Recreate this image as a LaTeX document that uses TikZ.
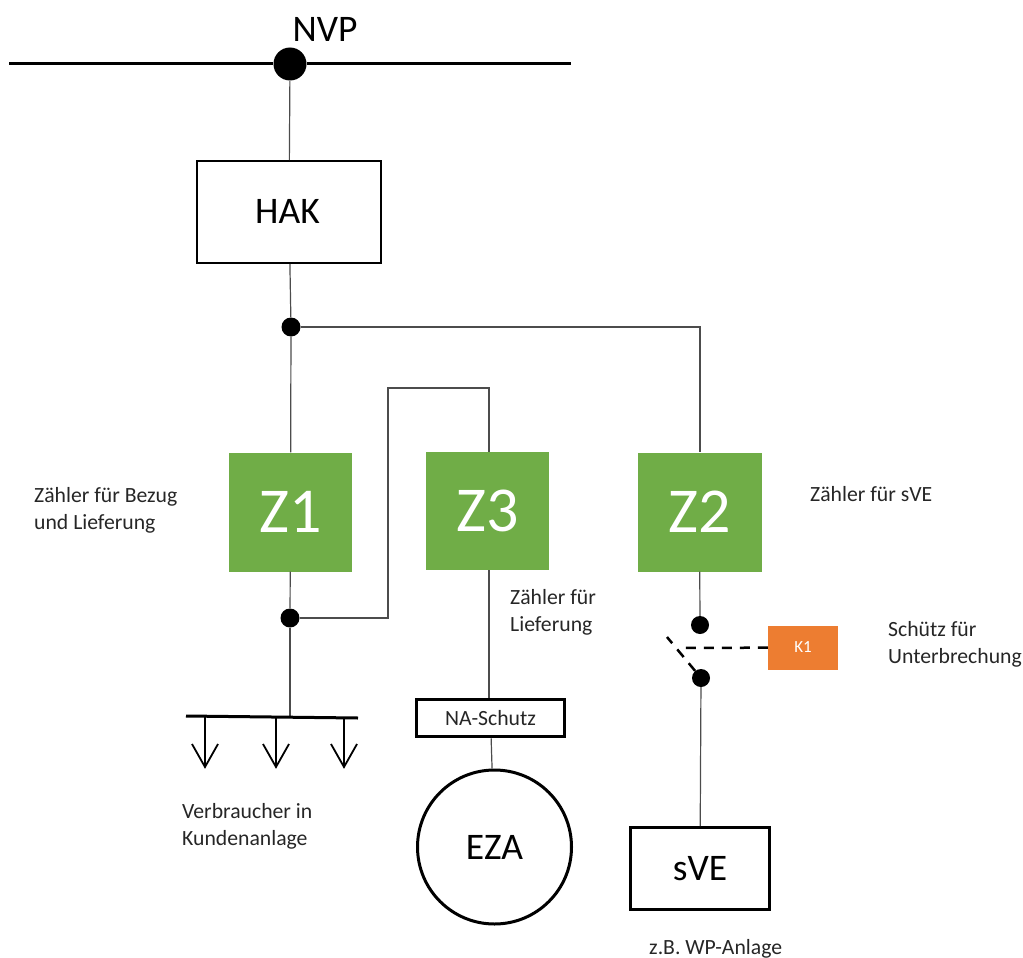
\documentclass[tikz,border=0pt]{standalone}
\usepackage{fontspec}
\setmainfont{Carlito}
\usetikzlibrary{calc}
\definecolor{zgreen}{HTML}{70AD47}
\definecolor{korange}{HTML}{ED7D31}
\definecolor{txt}{HTML}{262626}
\tikzset{
  wire/.style={draw=black!70,line width=1.2pt},
  bus/.style={draw=black,line width=3pt},
  dot/.style={circle,fill=black,inner sep=0pt,minimum size=#1},
  boxa/.style={draw=black,line width=2pt,fill=white,inner sep=0pt,text=black,font=\fontsize{37.5}{40}\selectfont},
  meter/.style={fill=zgreen,inner sep=0pt,minimum width=123pt,minimum height=119pt,text=white,font=\fontsize{64}{70}\selectfont},
  note/.style={align=left,anchor=north west,inner sep=0pt,text=txt,font=\fontsize{21.7}{27}\selectfont},
  load/.style={draw=black,line width=1.8pt},
  swline/.style={draw=black,line width=2.5pt,dash pattern=on 10pt off 8pt},
}
\begin{document}
\begin{tikzpicture}[x=1pt,y=-1pt]
\useasboundingbox (0,0) rectangle (1023,958);
% coordinates
\coordinate (busL) at (9,64);
\coordinate (busR) at (571,64);
\node[dot=33pt] (nvp) at (290,64) {};
\node[font=\fontsize{37.5}{40}\selectfont,text=black] (nvpt) at (325,29) {NVP};
\node[boxa,minimum width=184pt,minimum height=102pt,text depth=0pt] (hak) at (289,212) {\raisebox{1pt}{\kern-3pt HAK}};
\node[dot=19pt] (j1) at (291,327) {};
\node[meter] (z1) at (290.5,512) {Z1};
\node[meter,minimum height=118pt] (z3) at (487.5,511) {Z3};
\node[meter,minimum width=124pt] (z2) at (699.5,512) {Z2};
\node[dot=19pt] (j2) at (290,618) {};
\node[dot=18pt] (s1) at (700,625) {};
\node[dot=18pt] (s2) at (701,678) {};
\node[fill=korange,minimum width=70pt,minimum height=44pt,inner sep=0pt,text=white,font=\fontsize{17}{19}\selectfont] (k1) at (803,647.5) {K1};
\node[draw=black,line width=3.5pt,fill=white,minimum width=148pt,minimum height=37pt,inner sep=0pt,text=txt,font=\fontsize{21.7}{24}\selectfont] (na) at (490.5,718) {NA-Schutz};
\node[circle,draw=black,line width=3pt,fill=white,minimum size=154pt,inner sep=0pt,text=black,font=\fontsize{37.5}{40}\selectfont] (eza) at (494.5,847) {EZA};
\node[draw=black,line width=3pt,fill=white,minimum width=139pt,minimum height=82pt,inner sep=0pt,text=black,font=\fontsize{37.5}{40}\selectfont] (sve) at (700,868.5) {sVE};
\coordinate (lb1) at (186,716);
\coordinate (lb2) at (358,718);
\coordinate (lbm) at (290,717);
\coordinate (lt1) at (205,717);
\coordinate (lt2) at (276,717);
\coordinate (lt3) at (344,718);
\coordinate (lp1) at (205,767);
\coordinate (lp2) at (276,767);
\coordinate (lp3) at (344,767);
\coordinate (c1) at (388,618);
\coordinate (c2) at (388,388);
\coordinate (c3) at (489,388);
\coordinate (c4) at (700,327);
\coordinate (sw) at (667,637);
\coordinate (dashL) at (682,648);
% wires
\draw[bus] (busL) -- (nvp) -- (busR);
\draw[wire] (nvp) -- (hak);
\draw[wire] (hak) -- (j1);
\draw[wire] (j1) -- (z1);
\draw[wire] (j1) -- (c4) -- (z2.north -| c4);
\draw[wire] (z1) -- (j2);
\draw[wire] (j2) -- (c1) -- (c2) -- (c3) -- (z3.north -| c3);
\draw[wire] (j2) -- (lbm);
\draw[wire] (z3.south -| c3) -- (na.north -| c3);
\draw[wire] (na) -- (eza);
\draw[wire] (z2) -- (s1);
\draw[wire] (s2) -- (sve);
% switch
\draw[swline] (s2) -- (sw);
\draw[swline] (k1) -- (dashL);
% consumers
\draw[draw=black,line width=3pt] (lb1) -- (lb2);
\draw[load] (lt1) -- (lp1);
\draw[load] (lt2) -- (lp2);
\draw[load] (lt3) -- (lp3);
\draw[load] ($(lp1)+(-13,-23)$) -- (lp1) -- ($(lp1)+(13,-23)$);
\draw[load] ($(lp2)+(-13,-23)$) -- (lp2) -- ($(lp2)+(13,-23)$);
\draw[load] ($(lp3)+(-13,-23)$) -- (lp3) -- ($(lp3)+(13,-23)$);
% notes
\node[note] (n1) at (34,487.5) {Zähler für Bezug\\und Lieferung};
\node[note] (n2) at (510,589.5) {Zähler für\\Lieferung};
\node[note] (n3) at (810,486) {Zähler für sVE};
\node[note] (n4) at (888,621.5) {Schütz für\\Unterbrechung};
\node[note] (n5) at (182,803) {Verbraucher in\\Kundenanlage};
\node[note] (n6) at (649,939) {z.B. WP-Anlage};
\end{tikzpicture}
\end{document}
